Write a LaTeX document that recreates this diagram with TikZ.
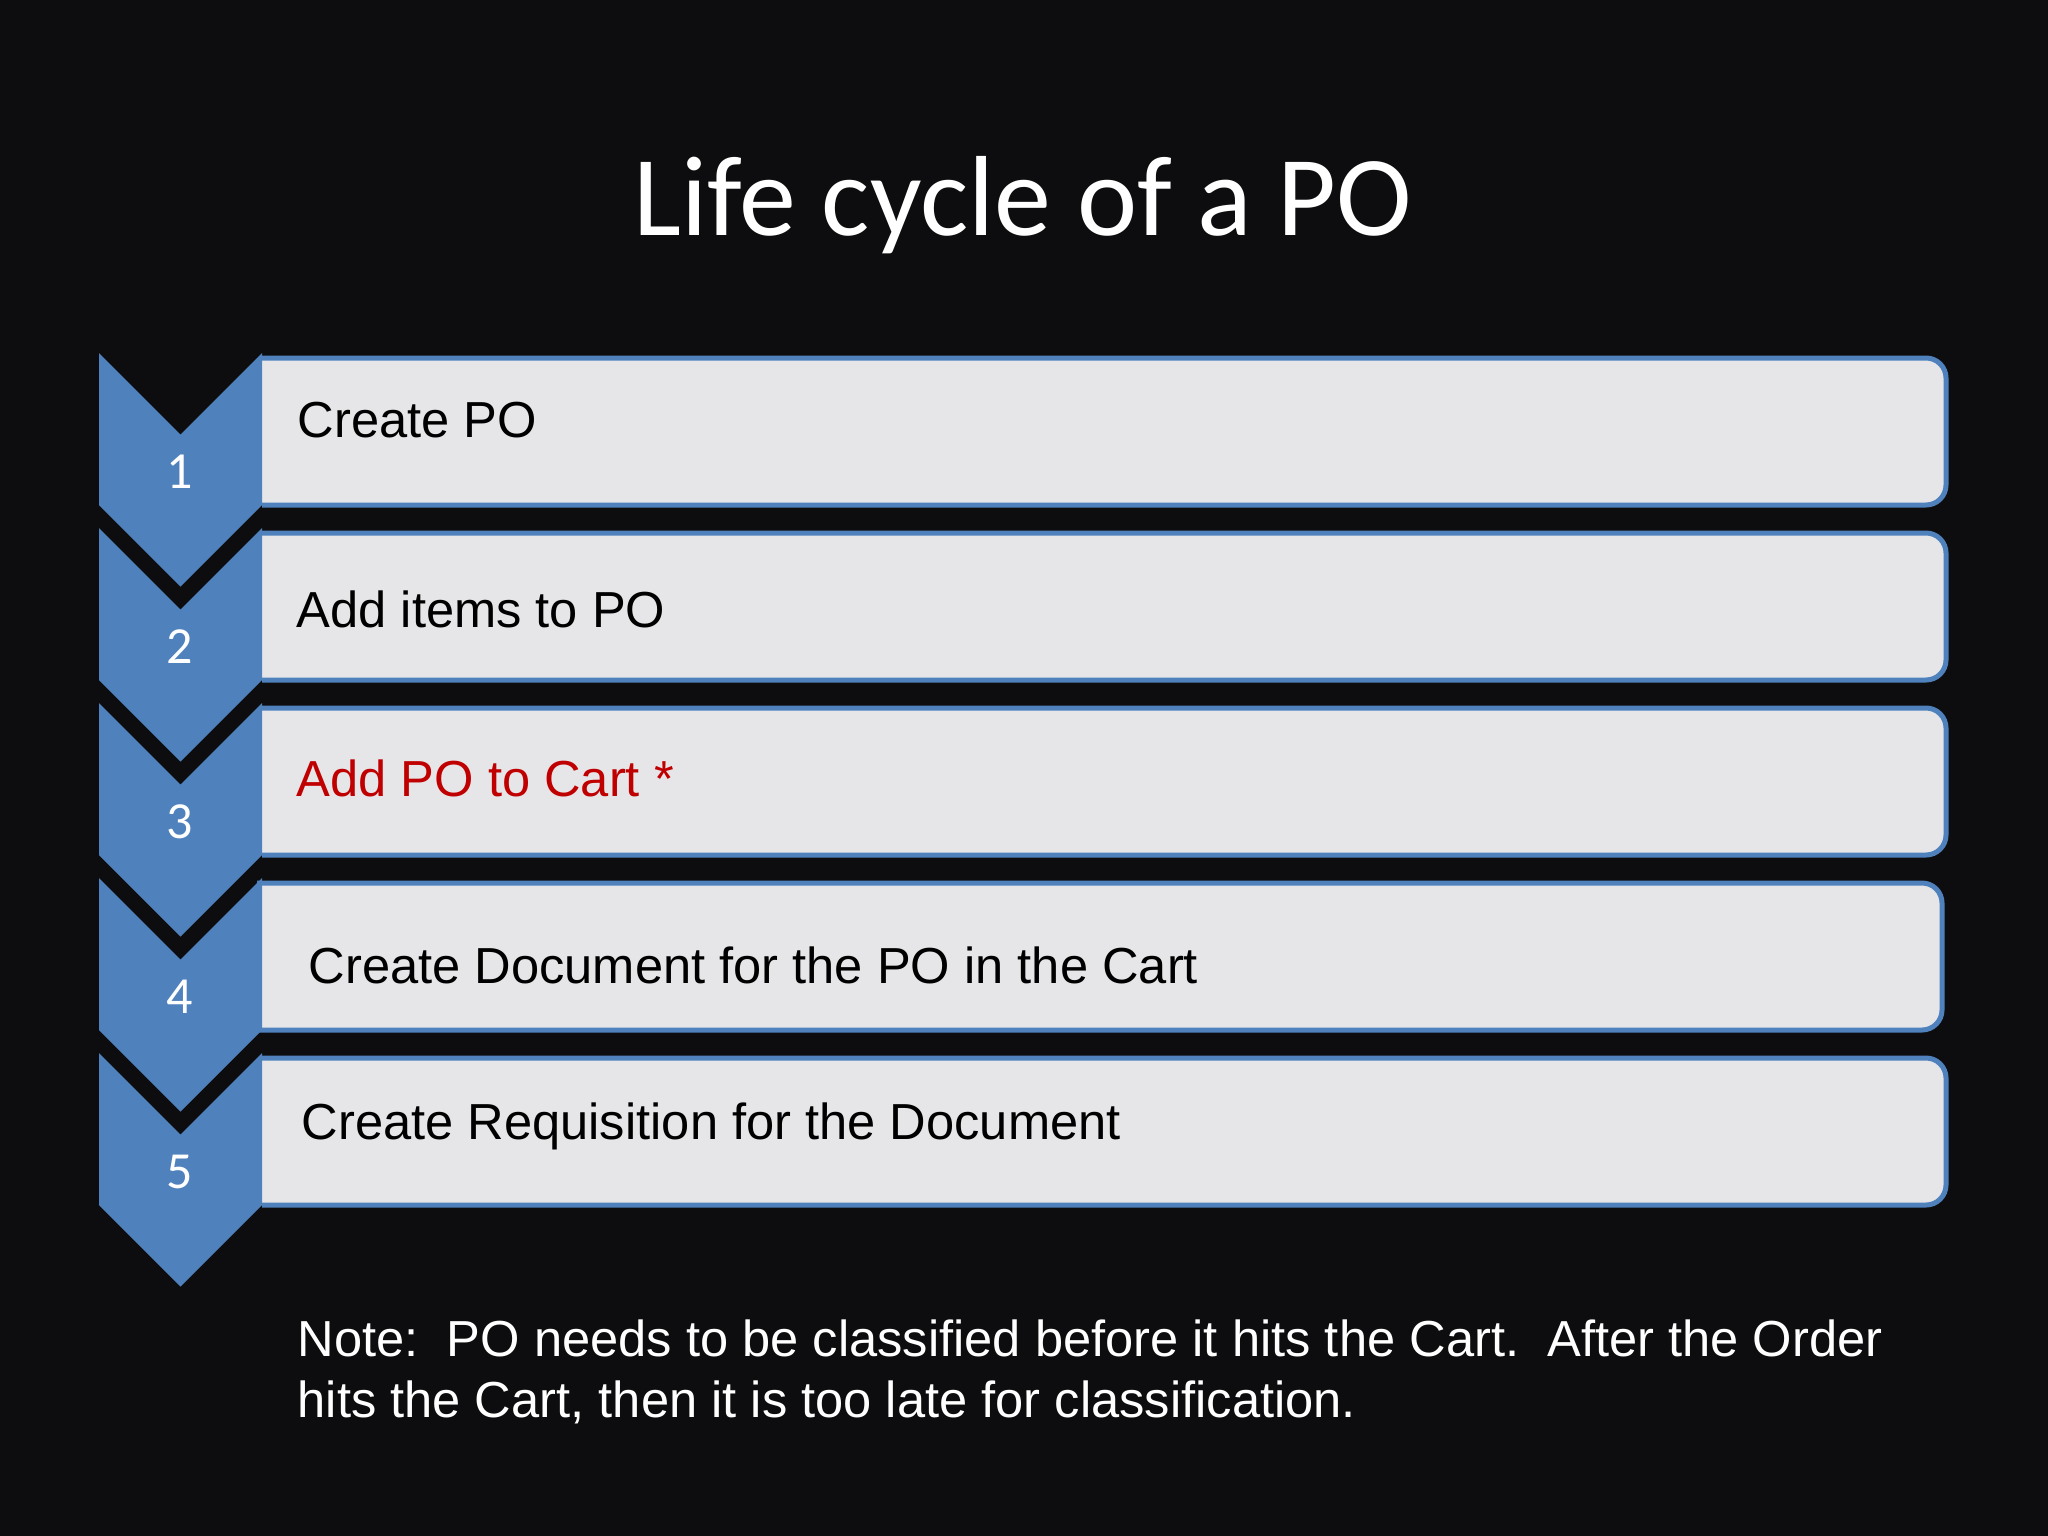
\documentclass[tikz,border=0pt]{standalone}
\usepackage{fontspec}
\setmainfont{Liberation Sans}
\newfontfamily\calibri{Carlito}
\usepackage{tikz}
\definecolor{slideblue}{RGB}{79,129,189}
\definecolor{slidebg}{RGB}{13,13,15}
\definecolor{boxgray}{RGB}{230,230,233}
\definecolor{cartred}{RGB}{192,0,0}

\begin{document}
\begin{tikzpicture}[
x = 0.01cm, y = -0.01cm,
chevron/.style={fill = slideblue},
stepbox/.style={fill = boxgray, draw = slideblue, line width = 0.05cm, rounded corners = 0.2cm},
steptext/.style={anchor = base west, inner sep = 0, font = \fontsize{14.4pt}{17.1pt}\selectfont},
numtext/.style={anchor = base, inner sep = 0, text = white, font = \calibri\fontsize{14.8pt}{17pt}\selectfont},
titletext/.style={anchor = base, inner sep = 0, text = white, font = \calibri\fontsize{32.4pt}{38pt}\selectfont}]

\fill[slidebg] (0,0) rectangle (2048,1536);
\node[titletext] (title) at (1023,235) {Life cycle of a PO};

\filldraw[stepbox] (262,358) -- (1946,358) -- (1946,505) -- (262,505);
\filldraw[stepbox] (262,533) -- (1946,533) -- (1946,680) -- (262,680);
\filldraw[stepbox] (262,708) -- (1946,708) -- (1946,855) -- (262,855);
\filldraw[stepbox] (257,883) -- (1942,883) -- (1942,1030) -- (257,1030);
\filldraw[stepbox] (262,1058) -- (1946,1058) -- (1946,1205) -- (262,1205);

\fill[chevron] (99,353) -- (180.5,434.5) -- (262,353) -- (262,505) -- (180.5,586.5) -- (99,505) -- cycle;
\fill[chevron] (99,528) -- (180.5,609.5) -- (262,528) -- (262,680) -- (180.5,761.5) -- (99,680) -- cycle;
\fill[chevron] (99,703) -- (180.5,784.5) -- (262,703) -- (262,855) -- (180.5,936.5) -- (99,855) -- cycle;
\fill[chevron] (99,878) -- (180.5,959.5) -- (262,878) -- (262,1030) -- (180.5,1111.5) -- (99,1030) -- cycle;
\fill[chevron] (99,1053) -- (180.5,1134.5) -- (262,1053) -- (262,1205) -- (180.5,1286.5) -- (99,1205) -- cycle;

\node[numtext] (n1) at (180,488) {1};
\node[numtext] (n2) at (180,663) {2};
\node[numtext] (n3) at (180,838) {3};
\node[numtext] (n4) at (180,1013) {4};
\node[numtext] (n5) at (180,1188) {5};

\node[steptext] (s1) at (297,437) {Create PO};
\node[steptext] (s2) at (296,627) {Add items to PO};
\node[steptext, text = cartred] (s3) at (296,796) {Add PO to Cart *};
\node[steptext] (s4) at (308,983) {Create Document for the PO in the Cart};
\node[steptext] (s5) at (301,1139) {Create Requisition for the Document};

\node[steptext, text = white, align = left] (note) at (297,1417) {Note:\ \ PO needs to be classified before it hits the Cart.\ \ After the Order\\hits the Cart, then it is too late for classification.};

\end{tikzpicture}
\end{document}
